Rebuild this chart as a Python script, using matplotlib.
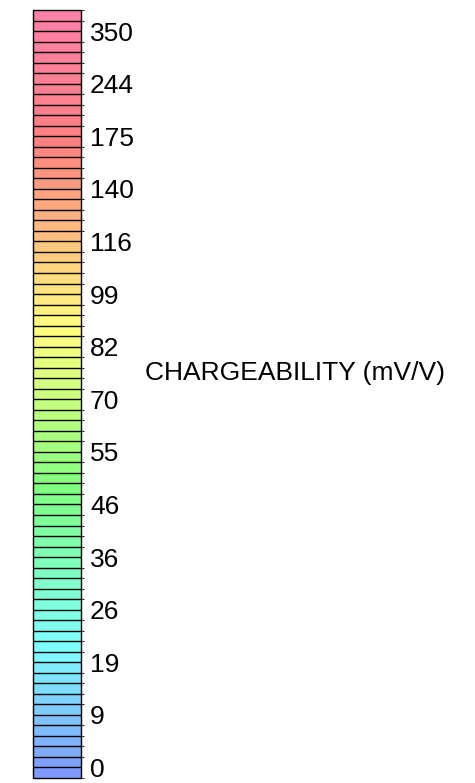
import numpy as np
import matplotlib
matplotlib.use("Agg")
import matplotlib.pyplot as plt
from matplotlib.colors import LinearSegmentedColormap, ListedColormap, BoundaryNorm
from matplotlib.colorbar import ColorbarBase

plt.rcParams['font.family'] = ['Liberation Sans', 'DejaVu Sans']

# valores de la escala (etiquetas de los cortes)
niveles = [0, 9, 19, 26, 36, 46, 55, 70, 82, 99, 116, 140, 175, 244, 350]
n_celdas = 73
# cada etiqueta cae en un corte, de a 5 celdas, empezando en el corte 1
pos_etiquetas = [1 + 5 * i for i in range(len(niveles))]

# colores de referencia (posicion relativa, color)
anclas = [(0.0, '#7f9aff'), (12 / 72, '#80ffff'), (27 / 72, '#80ff80'),
          (42 / 72, '#ffff80'), (60 / 72, '#ff8080'), (1.0, '#ff80a8')]
base = LinearSegmentedColormap.from_list('carga', anclas)
colores = ListedColormap([base(i / (n_celdas - 1)) for i in range(n_celdas)])

fig = plt.figure(figsize=(4.75, 7.83), dpi=100)
ax = fig.add_axes([33 / 475, 5 / 783, 48 / 475, 768 / 783])

limites = np.arange(n_celdas + 1)
norma = BoundaryNorm(limites, colores.N)
cb = ColorbarBase(ax, cmap=colores, norm=norma, boundaries=limites,
                  orientation='vertical', drawedges=True)
cb.dividers.set_color('black')
cb.dividers.set_linewidth(1.0)
cb.outline.set_edgecolor('black')
cb.outline.set_linewidth(1.0)

cb.set_ticks(pos_etiquetas)
cb.set_ticklabels([str(v) for v in niveles])
ax.tick_params(axis='y', length=0, pad=6.5, labelsize=19)

cb.set_label('CHARGEABILITY (mV/V)', rotation=0, ha='left', va='center', fontsize=19)
ax.yaxis.set_label_coords((145 - 33) / 48, (778 - 373) / 768)

fig.savefig('out.png', dpi=100)
